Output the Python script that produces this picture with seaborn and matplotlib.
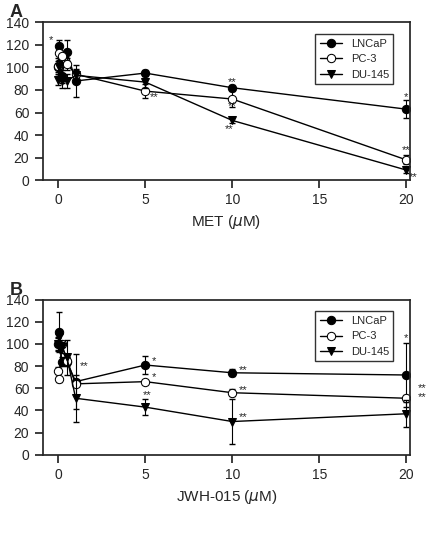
import numpy as np
import pandas as pd
import matplotlib
matplotlib.use("Agg")
import matplotlib.pyplot as plt
import seaborn as sns

doses = [0, 0.05, 0.2, 0.5, 1, 5, 10, 20]
lines = ["LNCaP", "PC-3", "DU-145"]

met_lncap = [100, 119, 92, 114, 88, 95, 82, 63]
met_lncap_err = [8, 5, 6, 10, 14, 3, 2, 8]
met_pc3 = [101, 113, 110, 103, 94, 79, 72, 18]
met_pc3_err = [5, 6, 5, 5, 5, 6, 7, 4]
met_du = [89, 100, 88, 88, 93, 87, 53, 9]
met_du_err = [5, 6, 6, 6, 5, 5, 2, 3]

jwh_lncap = [100, 111, 84, 84, 66, 81, 74, 72]
jwh_lncap_err = [6, 18, 4, 4, 25, 8, 3, 29]
jwh_pc3 = [76, 68, 100, 85, 64, 66, 56, 51]
jwh_pc3_err = [3, 2, 3, 3, 2, 1, 3, 3]
jwh_du = [100, 106, 97, 88, 51, 43, 30, 37]
jwh_du_err = [5, 6, 5, 16, 21, 7, 20, 12]

met_stars = [(-0.4, 124, "*"), (5.5, 74, "**"), (10, 87, "**"), (10, 66, "**"), (9.8, 45, "**"),
             (20, 74, "*"), (20, 27, "**"), (20.4, 3, "**")]
jwh_stars = [(1.5, 80, "**"), (5.5, 85, "*"), (5.5, 70, "*"), (5.1, 54, "**"),
             (10.6, 76, "**"), (10.6, 58, "**"), (10.6, 34, "**"),
             (20, 105, "*"), (20.9, 60, "**"), (20.9, 52, "**")]

markers = {"LNCaP": "o", "PC-3": "o", "DU-145": "v"}
faces = {"LNCaP": "black", "PC-3": "white", "DU-145": "black"}

sns.set_theme(style="ticks")
plt.rcParams["font.family"] = ["Liberation Sans", "DejaVu Sans"]
fig = plt.figure(figsize=(4.48, 5.58), dpi=100)
axA = fig.add_axes([0.095, 0.677, 0.82, 0.283])
axB = fig.add_axes([0.095, 0.185, 0.82, 0.278])

def panel(ax, data, stars, xlabel, letter):
    for name, (vals, errs) in zip(lines, data):
        df = pd.DataFrame({"dose": doses, "v": vals})
        ax.errorbar(doses, vals, yerr=errs, fmt="none", ecolor="black", elinewidth=0.8, capsize=2.5)
        sns.lineplot(data=df, x="dose", y="v", ax=ax, color="black", lw=1,
                     marker=markers[name], markerfacecolor=faces[name], markeredgecolor="black",
                     markersize=6, label=name)
    for x, y, s in stars:
        ax.text(x, y, s, ha="center", va="center", fontsize=8)
    ax.set_xlim(-0.9, 20.2)
    ax.set_ylim(0, 140)
    ax.set_xticks([0, 5, 10, 15, 20])
    ax.set_yticks(range(0, 141, 20))
    ax.set_xlabel(xlabel, fontsize=11)
    ax.set_ylabel("Cell viability (%)", fontsize=11)
    ax.tick_params(labelsize=10)
    ax.legend(loc="upper right", bbox_to_anchor=(0.97, 0.96), frameon=True, fancybox=False,
              edgecolor="black", fontsize=8)
    ax.text(-0.09, 1.06, letter, transform=ax.transAxes, fontsize=13, fontweight="bold", va="center")

panel(axA, [(met_lncap, met_lncap_err), (met_pc3, met_pc3_err), (met_du, met_du_err)],
      met_stars, "MET ($\\mu$M)", "A")
panel(axB, [(jwh_lncap, jwh_lncap_err), (jwh_pc3, jwh_pc3_err), (jwh_du, jwh_du_err)],
      jwh_stars, "JWH-015 ($\\mu$M)", "B")

fig.savefig("out.png", dpi=100)
